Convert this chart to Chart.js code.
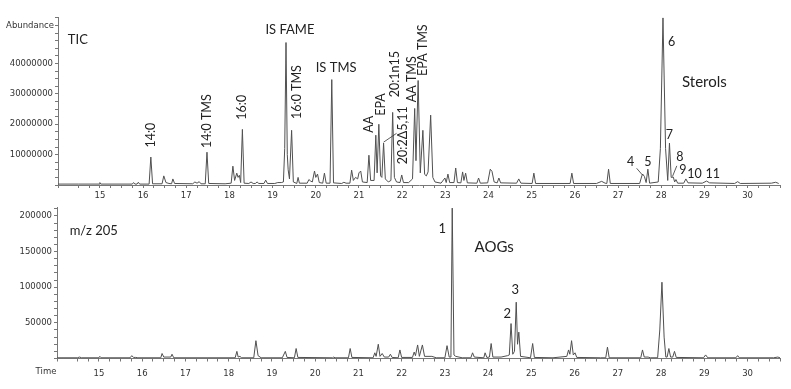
<!DOCTYPE html>
<html lang="en">
<head>
    <meta charset="UTF-8">
    <title>TIC and m/z 205 chromatograms</title>
    <script src="https://cdn.jsdelivr.net/npm/chart.js"></script>
    <style>
        body { margin: 0; background: #fff; }
        .panel { position: absolute; left: 0; }
        canvas { display: block; }
    </style>
</head>
<body>
    <div class="panel" style="top:0px"><canvas id="ticChart" width="791" height="200"></canvas></div>
    <div class="panel" style="top:200px"><canvas id="mzChart" width="791" height="189"></canvas></div>
    <script>
        // retention time (min) and abundance, apex + base points of each peak
        const ticTime = [
            14.03, 14.5, 14.98, 15.0, 15.02, 15.75, 15.78, 15.81, 15.86, 15.89, 15.92,
            16.14, 16.18, 16.22, 16.44, 16.48, 16.53, 16.6, 16.66, 16.69, 16.73,
            17.15, 17.2, 17.25, 17.3, 17.34, 17.44, 17.48, 17.52,
            17.9, 18.04, 18.08, 18.12, 18.17, 18.2, 18.23, 18.26, 18.3, 18.34,
            18.45, 18.5, 18.55, 18.6, 18.64, 18.68, 18.8, 18.84, 18.88,
            19.05, 19.12, 19.2, 19.25, 19.28, 19.31, 19.34, 19.36, 19.39, 19.44, 19.48, 19.56, 19.59, 19.62,
            19.8, 19.84, 19.88, 19.92, 19.97, 20.0, 20.04, 20.08, 20.16, 20.2, 20.24,
            20.33, 20.37, 20.41, 20.6, 20.65, 20.7, 20.79, 20.83, 20.87, 20.92, 20.97, 21.0, 21.04, 21.08,
            21.19, 21.23, 21.27, 21.35, 21.39, 21.42, 21.46, 21.5, 21.53, 21.57, 21.61, 21.68, 21.74, 21.78, 21.82,
            21.87, 21.95, 21.99, 22.03, 22.15, 22.24, 22.29, 22.32, 22.37, 22.42, 22.48, 22.52, 22.56, 22.6, 22.66, 22.71, 22.76,
            22.9, 22.99, 23.02, 23.06, 23.1, 23.2, 23.24, 23.28, 23.36, 23.4, 23.43, 23.47, 23.51,
            23.73, 23.77, 23.81, 23.98, 24.04, 24.08, 24.13, 24.2, 24.24, 24.28, 24.65, 24.7, 24.75,
            25.01, 25.05, 25.09, 25.89, 25.93, 25.97, 26.5, 26.62, 26.7, 26.74, 26.78, 26.82,
            27.5, 27.55, 27.57, 27.61, 27.65, 27.69, 27.73, 27.93, 27.98, 28.04, 28.1, 28.15,
            28.19, 28.23, 28.28, 28.31, 28.34, 28.38, 28.52, 28.57, 28.62, 28.95, 29.05, 29.12,
            29.7, 29.77, 29.83, 30.55, 30.65, 30.72
        ];
        const ticAbundance = [
            0.3, 0.3, 0.3, 0.8, 0.3, 0.3, 0.8, 0.3, 0.3, 0.9, 0.3,
            0.3, 9.2, 0.4, 0.4, 3.0, 0.8, 0.5, 0.4, 2.0, 0.5,
            0.4, 1.0, 0.6, 1.1, 0.4, 0.4, 10.8, 0.5,
            0.4, 0.6, 6.2, 1.5, 3.9, 2.5, 3.2, 0.8, 18.3, 0.6,
            0.5, 1.0, 0.5, 0.5, 1.0, 0.5, 0.5, 1.6, 0.5,
            0.5, 0.8, 0.8, 1.0, 12.0, 46.9, 10.0, 5.0, 2.0, 18.0, 1.0, 0.5, 2.5, 0.6,
            0.6, 1.8, 1.3, 1.0, 4.6, 2.5, 3.6, 0.8, 0.6, 3.9, 0.6,
            0.6, 34.7, 0.7, 0.5, 0.9, 0.6, 0.6, 4.9, 1.5, 2.5, 2.0, 4.0, 4.6, 1.0,
            0.8, 9.8, 1.5, 1.5, 16.4, 4.0, 20.0, 3.0, 2.5, 13.8, 2.0, 1.0, 1.5, 23.9, 2.5,
            1.0, 0.8, 3.3, 0.8, 0.8, 2.0, 25.2, 8.0, 34.4, 4.0, 18.0, 3.5, 3.0, 4.3, 23.0, 2.5, 1.0,
            0.6, 2.3, 0.8, 3.6, 0.8, 0.8, 5.6, 0.8, 0.7, 4.3, 1.5, 3.9, 0.7,
            0.6, 2.3, 0.6, 0.7, 5.2, 4.5, 1.0, 0.7, 2.3, 0.7, 0.6, 2.0, 0.6,
            0.5, 3.9, 0.5, 0.5, 3.9, 0.5, 0.5, 1.2, 0.6, 0.5, 5.2, 0.5,
            0.5, 3.0, 3.6, 2.8, 0.8, 5.2, 0.6, 1.0, 12.0, 55.0, 12.0, 1.5,
            13.8, 2.5, 2.6, 1.0, 1.8, 0.6, 0.6, 2.0, 0.7, 0.6, 1.3, 0.7,
            0.5, 1.1, 0.5, 0.6, 0.9, 0.5
        ].map(v => v * 1e6);

        const mzTime = [
            14.03, 14.5, 14.55, 14.6, 15.0, 15.02, 15.05, 15.72, 15.76, 15.8, 15.85, 15.9,
            16.43, 16.46, 16.5, 16.66, 16.69, 16.73, 17.5, 18.15, 18.19, 18.22, 18.26, 18.3,
            18.58, 18.63, 18.68, 18.75, 19.24, 19.31, 19.35, 19.52, 19.56, 19.6,
            20.4, 20.43, 20.46, 20.77, 20.81, 20.85, 21.34, 21.38, 21.41, 21.46, 21.5, 21.55, 21.6,
            21.7, 21.74, 21.78, 21.92, 21.96, 22.0, 22.25, 22.29, 22.32, 22.37, 22.41, 22.48, 22.53,
            22.7, 22.8, 23.0, 23.05, 23.1, 23.14, 23.17, 23.21, 23.25, 23.4,
            23.6, 23.64, 23.68, 23.9, 23.93, 23.97, 24.03, 24.07, 24.11, 24.3,
            24.45, 24.49, 24.53, 24.57, 24.61, 24.65, 24.68, 24.71, 24.75, 24.98, 25.03, 25.07,
            25.5, 25.82, 25.86, 25.89, 25.93, 25.97, 26.01, 26.05, 26.6, 26.72, 26.76, 26.8,
            27.53, 27.57, 27.61, 27.7, 27.75, 27.92, 27.97, 28.02, 28.07, 28.11,
            28.14, 28.18, 28.22, 28.27, 28.31, 28.35, 28.98, 29.03, 29.08,
            29.73, 29.77, 29.81, 30.6, 30.7, 30.75
        ];
        const mzAbundance = [
            1, 1, 2, 1, 1, 3, 1, 1, 4, 1.5, 1.5, 1,
            1, 7, 2, 2, 6, 1, 1, 1, 10, 2, 3, 1,
            1, 25, 4, 1, 1, 10, 1.5, 1, 14, 1.5,
            1, 2, 1, 1, 14, 1.5, 1, 8, 3, 20, 3, 7, 2,
            2, 6, 1.5, 1, 12, 1.5, 1.5, 9, 4, 19, 3, 19, 3,
            3, 1, 1, 18, 2, 2, 211, 5, 3, 1,
            1, 8, 2, 1, 8, 1.5, 2, 21, 2, 2,
            4, 5, 49, 6, 10, 79, 20, 37, 3, 1, 21, 1.5,
            1, 3, 12, 6, 25, 5, 8, 1.5, 1, 1, 16, 1,
            1, 12, 2, 2, 1, 1, 40, 107, 30, 2,
            2, 14, 2, 2, 10, 1.5, 1, 5, 1,
            1, 4, 1, 1, 2, 1
        ].map(v => v * 1000);

        const ticYTicks = [10000000, 20000000, 30000000, 40000000];
        const mzYTicks = [50000, 100000, 150000, 200000];

        // peak labels: [text, time, abundance, rotated, font px]
        const ticLabels = [
            ['TIC', 14.49, 47.7e6, false, 13],
            ['14:0', 16.18, 16.4e6, true, 12.5],
            ['14:0 TMS', 17.48, 21e6, true, 12.5],
            ['16:0', 18.29, 25.6e6, true, 12.5],
            ['IS FAME', 19.4, 51e6, false, 13],
            ['16:0 TMS', 19.56, 30.6e6, true, 12.5],
            ['IS TMS', 20.47, 38.5e6, false, 13],
            ['AA', 21.23, 20e6, true, 12.5],
            ['EPA', 21.5, 26.5e6, true, 12.5],
            ['20:1n15', 21.83, 36.5e6, true, 12.5],
            ['20:2\u03945,11', 22.01, 16.4e6, true, 12.5],
            ['AA TMS', 22.22, 34.8e6, true, 12.5],
            ['EPA TMS', 22.48, 44.4e6, true, 12.5],
            ['Sterols', 29.0, 33.9e6, false, 15],
            ['6', 28.24, 47e6, false, 12.5],
            ['7', 28.19, 16.4e6, false, 12.5],
            ['4', 27.29, 7.5e6, false, 12.5],
            ['5', 27.69, 7.5e6, false, 12.5],
            ['8', 28.43, 9.1e6, false, 12.5],
            ['9', 28.5, 4.8e6, false, 12.5],
            ['10', 28.77, 3.5e6, false, 12.5],
            ['11', 29.19, 3.5e6, false, 12.5]
        ];
        const ticLeaders = [
            [21.57, 14.1e6, 21.87, 17.0e6],
            [27.43, 5.5e6, 27.57, 3.2e6],
            [28.26, 2.8e6, 28.36, 6.3e6]
        ];
        const mzLabels = [
            ['m/z 205', 14.88, 178.7e3, false, 13],
            ['1', 22.94, 181.5e3, false, 13],
            ['AOGs', 24.14, 156e3, false, 15],
            ['2', 24.44, 62e3, false, 13],
            ['3', 24.63, 96e3, false, 13]
        ];

        const textFont = 'Lato, "Open Sans", sans-serif';
        const tickFont = { family: '"DejaVu Sans", sans-serif', size: 8.5 };

        const peakLabels = {
            id: 'peakLabels',
            afterDatasetsDraw(chart, args, opts) {
                const ctx = chart.ctx;
                const xs = chart.scales.x, ys = chart.scales.y;
                ctx.save();
                ctx.fillStyle = '#222';
                ctx.strokeStyle = '#333';
                ctx.lineWidth = 0.8;
                (opts.leaders || []).forEach(l => {
                    ctx.beginPath();
                    ctx.moveTo(xs.getPixelForValue(l[0]), ys.getPixelForValue(l[1]));
                    ctx.lineTo(xs.getPixelForValue(l[2]), ys.getPixelForValue(l[3]));
                    ctx.stroke();
                });
                ctx.textAlign = 'center';
                ctx.textBaseline = 'middle';
                (opts.labels || []).forEach(l => {
                    const x = xs.getPixelForValue(l[1]);
                    const y = ys.getPixelForValue(l[2]);
                    ctx.font = l[4] + 'px ' + textFont;
                    ctx.save();
                    ctx.translate(x, y);
                    if (l[3]) ctx.rotate(-Math.PI / 2);
                    ctx.fillText(l[0], 0, 0);
                    ctx.restore();
                });
                ctx.font = '8.5px "DejaVu Sans", sans-serif';
                ctx.fillStyle = '#333';
                if (opts.corner) ctx.fillText(opts.corner[0], opts.corner[1], opts.corner[2]);
                ctx.restore();
            }
        };

        function makeChart(id, times, values, yMax, yStep, yLabels, left, top, xHeight, xPad, labels, leaders, corner) {
            const ctx = document.getElementById(id).getContext('2d');
            return new Chart(ctx, {
                type: 'line',
                data: {
                    datasets: [{
                        data: times.map((t, i) => ({ x: t, y: values[i] })),
                        borderColor: '#505050',
                        borderWidth: 1,
                        pointRadius: 0,
                        tension: 0,
                        fill: false
                    }]
                },
                options: {
                    responsive: false,
                    animation: false,
                    layout: { padding: { left: 0, right: 11, top: top, bottom: 0 } },
                    plugins: {
                        legend: { display: false },
                        tooltip: { enabled: false },
                        peakLabels: { labels: labels, leaders: leaders, corner: corner }
                    },
                    scales: {
                        x: {
                            type: 'linear',
                            min: 14.03,
                            max: 30.75,
                            afterFit: s => { s.height = xHeight; },
                            border: { color: '#777' },
                            grid: { drawOnChartArea: false, tickLength: 3, color: '#777' },
                            ticks: {
                                stepSize: 0.25,
                                autoSkip: false,
                                maxRotation: 0,
                                padding: xPad,
                                color: '#333',
                                font: tickFont,
                                callback: v => Number.isInteger(v) ? String(v) : ''
                            }
                        },
                        y: {
                            type: 'linear',
                            min: 0,
                            max: yMax,
                            afterFit: s => { s.width = left; },
                            afterBuildTicks: s => {
                                const t = [];
                                for (let k = 0; k * yStep <= yMax; k++) t.push({ value: k * yStep });
                                s.ticks = t;
                            },
                            border: { color: '#777' },
                            grid: { drawOnChartArea: false, tickLength: 3, color: '#777' },
                            ticks: {
                                autoSkip: false,
                                padding: 2,
                                color: '#333',
                                font: tickFont,
                                callback: v => yLabels.some(l => Math.abs(l - v) < 1) ? String(Math.round(v)) : ''
                            }
                        }
                    }
                },
                plugins: [peakLabels]
            });
        }

        makeChart('ticChart', ticTime, ticAbundance, 55.3e6, 2.5e6, ticYTicks, 58, 17, 15, 3,
            ticLabels, ticLeaders, ['Abundance', 30, 26]);
        makeChart('mzChart', mzTime, mzAbundance, 212400, 10000, mzYTicks, 57, 7, 30.5, 7,
            mzLabels, [], ['Time', 46, 172]);
    </script>
</body>
</html>
